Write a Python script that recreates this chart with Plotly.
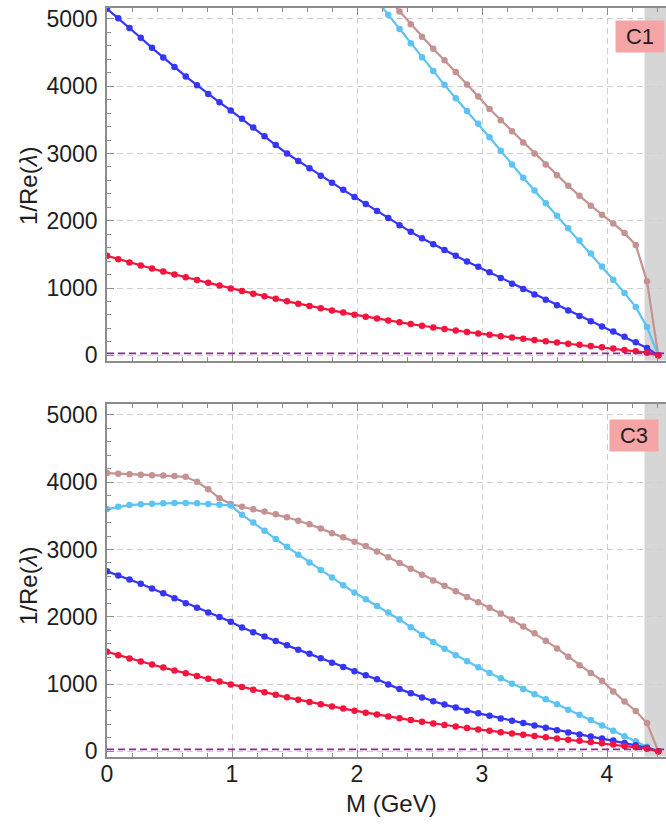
import plotly.graph_objects as go

# ---------------- data ----------------
mass = [0.00, 0.09, 0.18, 0.27, 0.36, 0.45, 0.54, 0.63, 0.72, 0.81,
        0.90, 0.99, 1.08, 1.17, 1.26, 1.35, 1.44, 1.53, 1.62, 1.71,
        1.80, 1.89, 1.98, 2.07, 2.16, 2.25, 2.34, 2.43, 2.52, 2.61,
        2.70, 2.79, 2.88, 2.97, 3.06, 3.15, 3.24, 3.33, 3.42, 3.51,
        3.60, 3.69, 3.78, 3.87, 3.96, 4.05, 4.14, 4.23, 4.32, 4.41]

# panel C1
red_c1 = [1480, 1430, 1380, 1335, 1290, 1245, 1200, 1160, 1120, 1078,
          1038, 995, 955, 915, 877, 840, 803, 768, 733, 700,
          668, 636, 605, 575, 546, 518, 491, 465, 440, 415,
          392, 369, 347, 326, 305, 285, 265, 246, 227, 209,
          191, 173, 156, 139, 122, 100, 80, 60, 40, 0]
blue_c1 = [5150, 5010, 4865, 4720, 4570, 4425, 4285, 4145, 4015, 3885,
           3760, 3640, 3515, 3385, 3255, 3125, 3000, 2890, 2780, 2670,
           2565, 2460, 2355, 2250, 2145, 2040, 1935, 1835, 1740, 1650,
           1565, 1480, 1395, 1315, 1235, 1150, 1065, 985, 905, 825,
           745, 665, 585, 505, 430, 355, 275, 195, 110, 0]
cyan_c1_mass = mass[24:]
cyan_c1 = [5270, 5060, 4850, 4640, 4430, 4225, 4020, 3820, 3630, 3440,
           3240, 3040, 2835, 2640, 2450, 2260, 2075, 1890, 1705, 1515,
           1320, 1125, 925, 720, 420, 0]
brown_c1_mass = mass[25:]
brown_c1 = [5300, 5110, 4920, 4735, 4555, 4385, 4210, 4025, 3845, 3660,
            3495, 3330, 3165, 3000, 2835, 2675, 2520, 2370, 2225, 2090,
            1960, 1820, 1640, 1100, 0]

# panel C3
red_c3 = [1480, 1430, 1380, 1335, 1290, 1245, 1200, 1160, 1120, 1078,
          1038, 995, 955, 915, 877, 840, 803, 768, 733, 700,
          668, 636, 605, 575, 546, 518, 491, 465, 440, 415,
          392, 369, 347, 326, 305, 285, 265, 246, 227, 209,
          191, 173, 156, 139, 122, 100, 80, 60, 40, 0]
blue_c3 = [2675, 2615, 2555, 2490, 2420, 2350, 2275, 2200, 2135, 2065,
           1995, 1925, 1840, 1770, 1705, 1640, 1575, 1510, 1450, 1385,
           1318, 1253, 1190, 1130, 1070, 995, 925, 865, 800, 745,
           695, 650, 605, 565, 530, 490, 455, 420, 385, 350,
           315, 280, 250, 220, 190, 160, 125, 90, 55, 0]
cyan_c3 = [3600, 3635, 3660, 3672, 3680, 3686, 3690, 3690, 3686, 3676,
           3665, 3655, 3515, 3400, 3280, 3155, 3040, 2920, 2805, 2695,
           2585, 2470, 2360, 2260, 2160, 2065, 1960, 1845, 1730, 1625,
           1525, 1430, 1340, 1250, 1165, 1085, 1005, 925, 850, 775,
           700, 620, 545, 465, 385, 305, 225, 150, 70, 0]
brown_c3 = [4135, 4125, 4118, 4112, 4105, 4098, 4092, 4080, 4005, 3895,
            3760, 3675, 3635, 3597, 3565, 3525, 3478, 3428, 3375, 3310,
            3240, 3180, 3115, 3050, 2970, 2885, 2800, 2715, 2625, 2540,
            2460, 2380, 2295, 2215, 2135, 2050, 1955, 1855, 1755, 1645,
            1530, 1405, 1280, 1165, 1050, 890, 740, 600, 420, 0]

x_ticks = [0, 1, 2, 3, 4]
y_ticks = [0, 1000, 2000, 3000, 4000, 5000]
ref_level = 30
band_start = 4.3
panel_labels = ["C1", "C3"]

# ---------------- styles ----------------
COL_RED = "#f5143c"
COL_BLUE = "#3535f5"
COL_CYAN = "#5cc3f2"
COL_BROWN = "#c49290"
COL_PURPLE = "#8a2a8e"
AXCOL = "#8c8c8c"
FONT = "Liberation Sans, Arial, sans-serif"
TXT = "#1e1e1e"

X_RANGE = [0, 4.472]
Y_RANGE = [-78, 5162]

fig = go.Figure()


def add_series(xs, ys, color, xa, ya):
    fig.add_trace(go.Scatter(
        x=xs, y=ys, mode="lines+markers", xaxis=xa, yaxis=ya,
        line=dict(color=color, width=2.2),
        marker=dict(color=color, size=6.5),
        showlegend=False, hoverinfo="skip"))


add_series(brown_c1_mass, brown_c1, COL_BROWN, "x", "y")
add_series(cyan_c1_mass, cyan_c1, COL_CYAN, "x", "y")
add_series(mass, blue_c1, COL_BLUE, "x", "y")
add_series(mass, red_c1, COL_RED, "x", "y")

add_series(mass, brown_c3, COL_BROWN, "x2", "y2")
add_series(mass, cyan_c3, COL_CYAN, "x2", "y2")
add_series(mass, blue_c3, COL_BLUE, "x2", "y2")
add_series(mass, red_c3, COL_RED, "x2", "y2")

shapes = []
for xr, yr in (("x", "y"), ("x2", "y2")):
    shapes.append(dict(type="rect", xref=xr, yref=yr,
                       x0=band_start, x1=X_RANGE[1] + 0.05,
                       y0=Y_RANGE[0] - 100, y1=Y_RANGE[1] + 100,
                       fillcolor="#d6d6d6", line=dict(width=0), layer="below"))
    shapes.append(dict(type="line", xref=xr, yref=yr,
                       x0=X_RANGE[0], x1=X_RANGE[1], y0=ref_level, y1=ref_level,
                       line=dict(color=COL_PURPLE, width=1.8, dash="7px,4px"),
                       layer="above"))


def xaxis(domain_anchor, labels):
    return dict(
        anchor=domain_anchor, domain=[0, 1], range=X_RANGE,
        tickmode="array", tickvals=x_ticks, ticktext=[str(v) for v in x_ticks],
        showticklabels=labels, ticks="inside", ticklen=7, tickwidth=1.2,
        tickcolor=AXCOL, showline=True, linecolor=AXCOL, linewidth=1.5,
        mirror="ticks", showgrid=True, gridcolor="#cfcfcf", gridwidth=1,
        griddash="6px,4px", zeroline=False, ticklabelstandoff=-4,
        tickfont=dict(family=FONT, size=23, color=TXT),
        minor=dict(dtick=0.2, tick0=0, ticks="inside", ticklen=4,
                   tickcolor=AXCOL, tickwidth=1, showgrid=False),
        automargin=False, fixedrange=True)


def yaxis(anchor, domain):
    return dict(
        anchor=anchor, domain=domain, range=Y_RANGE,
        tickmode="array", tickvals=y_ticks, ticktext=[str(v) for v in y_ticks],
        ticks="inside", ticklen=7, tickwidth=1.2, tickcolor=AXCOL,
        showline=True, linecolor=AXCOL, linewidth=1.5, mirror=False,
        showgrid=True, gridcolor="#cfcfcf", gridwidth=1, griddash="6px,4px",
        zeroline=False, ticklabelstandoff=3,
        tickfont=dict(family=FONT, size=23, color=TXT),
        minor=dict(dtick=200, tick0=0, ticks="inside", ticklen=4,
                   tickcolor=AXCOL, tickwidth=1, showgrid=False),
        automargin=False, fixedrange=True)


H = 828.0
top_dom = [1 - 360.6 / H, 1 - 8 / H]
bot_dom = [1 - 756.6 / H, 1 - 404 / H]

annotations = []
for lab, xpix, ypix in ((panel_labels[0], 640, 37), (panel_labels[1], 634, 435.5)):
    annotations.append(dict(
        text=lab, xref="paper", yref="paper",
        x=(xpix - 107) / 559.0, y=1 - ypix / H,
        xanchor="center", yanchor="middle", showarrow=False,
        bgcolor="#f5a5a5", width=44, height=27, borderpad=2,
        font=dict(family=FONT, size=22, color=TXT)))

for yc in (186, 586):
    annotations.append(dict(
        text="1/Re(<i>λ</i>)", xref="paper", yref="paper",
        x=(28 - 107) / 559.0, y=1 - yc / H, textangle=-90,
        xanchor="center", yanchor="middle", showarrow=False,
        font=dict(family=FONT, size=24, color=TXT)))

annotations.append(dict(
    text="M (GeV)", xref="paper", yref="paper",
    x=(391 - 107) / 559.0, y=1 - 803 / H, xanchor="center", yanchor="middle",
    showarrow=False, font=dict(family=FONT, size=24, color=TXT)))

fig.update_layout(
    width=666, height=828,
    margin=dict(l=107, r=0, t=0, b=0, pad=0),
    paper_bgcolor="white", plot_bgcolor="white",
    showlegend=False,
    xaxis=xaxis("y", False), yaxis=yaxis("x", top_dom),
    xaxis2=xaxis("y2", True), yaxis2=yaxis("x2", bot_dom),
    shapes=shapes, annotations=annotations,
)

fig.write_html("out.html")
